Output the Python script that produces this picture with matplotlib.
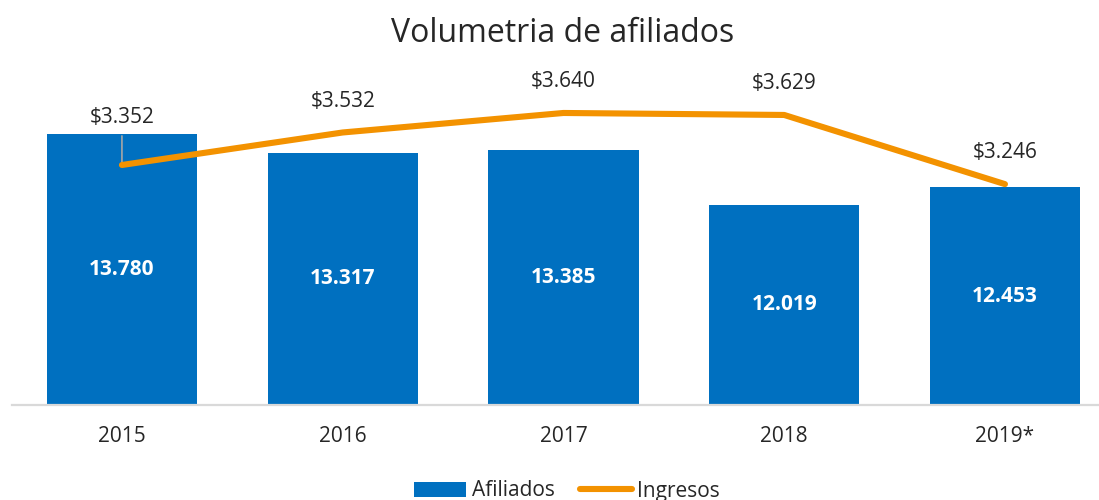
import matplotlib
matplotlib.use("Agg")
import matplotlib.pyplot as plt
from matplotlib.patches import Patch
from matplotlib.lines import Line2D

# data
years = ["2015", "2016", "2017", "2018", "2019*"]
afiliados = [13780, 13317, 13385, 12019, 12453]
ingresos = [3352, 3532, 3640, 3629, 3246]

blue = "#0070C0"
orange = "#F39200"
txt = "#262626"

plt.rcParams["font.family"] = ["Open Sans", "DejaVu Sans"]

fig = plt.figure(figsize=(10.99, 5.0), dpi=100)
# axes from x=12px to right edge, y=42px to 405px
ax = fig.add_axes([12 / 1099, 95 / 500, 1 - 12 / 1099, 363 / 500])
ax2 = ax.twinx()

x = list(range(len(years)))
bars = ax.bar(x, afiliados, width=0.68, color=blue, zorder=2)
ax.set_xlim(-0.498, 4.426)
ax.set_ylim(7060, 16060)
ax2.set_ylim(2023, 4033)

y0 = ax.get_ylim()[0]
for xi, v in zip(x, afiliados):
    ax.text(xi, (y0 + v) / 2, f"{v:,}".replace(",", "."), ha="center", va="center",
            color="white", fontsize=15, fontweight="bold", zorder=3)

ax2.plot(x, ingresos, color=orange, lw=4.4, solid_capstyle="round", zorder=5)
for xi, v in zip(x, ingresos):
    lab = "$" + f"{v:,}".replace(",", ".")
    if xi == 0:
        ax2.annotate(lab, xy=(xi, v), xytext=(0, 34.5), textcoords="offset points",
                     ha="center", va="center", fontsize=15, color=txt,
                     arrowprops=dict(arrowstyle="-", color="#A6A6A6", lw=1.2,
                                     shrinkA=4, shrinkB=0), zorder=4)
    else:
        ax2.annotate(lab, xy=(xi, v), xytext=(0, 22.5), textcoords="offset points",
                     ha="center", va="center", fontsize=15, color=txt)

for a in (ax, ax2):
    for s in ("top", "right", "left"):
        a.spines[s].set_visible(False)
    a.set_yticks([])
ax.spines["bottom"].set_color("#D9D9D9")
ax.spines["bottom"].set_linewidth(1.6)
ax2.spines["bottom"].set_visible(False)

ax.set_xticks(x)
ax.set_xticklabels(years, fontsize=15, color=txt)
ax.tick_params(axis="x", length=0, pad=15)

fig.text(563 / 1099, 1 - 42 / 500, "Volumetria de afiliados", ha="center", va="baseline",
         fontsize=23, color=txt)

handles = [Patch(facecolor=blue, edgecolor="none"),
           Line2D([0], [0], color=orange, lw=4.4, solid_capstyle="round")]
fig.legend(handles, ["Afiliados", "Ingresos"], loc="center", bbox_to_anchor=(567 / 1099, 0.018),
           ncol=2, frameon=False, fontsize=15, handlelength=2.5, handleheight=0.7,
           handletextpad=0.25, columnspacing=1.2, labelcolor=txt, borderpad=0)

fig.savefig("out.png", dpi=100)
